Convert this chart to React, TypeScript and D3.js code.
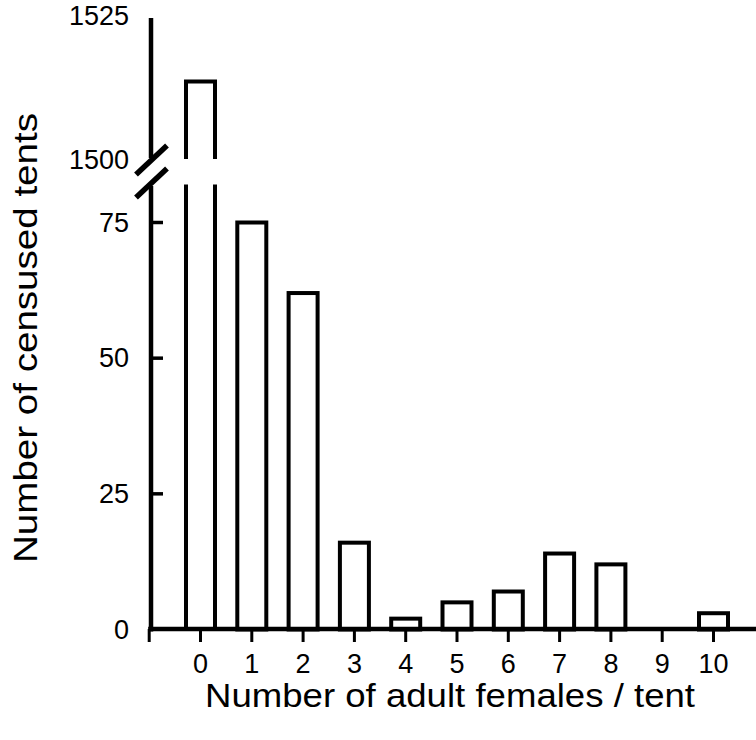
import React from "react";
import * as d3 from "d3";

const categories: number[] = [0, 1, 2, 3, 4, 5, 6, 7, 8, 9, 10];
const counts: number[] = [1514, 75, 62, 16, 2, 5, 7, 14, 12, 0, 3];
const lowTicks: number[] = [0, 25, 50, 75];
const highTicks: number[] = [1500, 1525];
const xTitle = "Number of adult females / tent";
const yTitle = "Number of censused tents";

const W = 756;
const H = 740;
const FONT = "'Liberation Sans', Arial, Helvetica, sans-serif";

export default function App() {
  const x = d3.scaleLinear().domain([-1, 11]).range([149.2, 764.8]);
  const yLow = d3.scaleLinear().domain([0, 75]).range([629.5, 222.5]);
  const yHigh = d3.scaleLinear().domain([1500, 1525]).range([160, 20]);
  const lowMax = 82; // top of lower panel (break)
  const highMin = 1500.2; // bottom of upper panel (break)
  const axisX = 151;
  const barW = 29;
  const sw = 4;

  const breakY1 = 160.5;
  const breakY2 = 183.5;

  const bars = categories.map((c, i) => {
    const v = counts[i];
    if (v <= 0) return null;
    const cx = x(c);
    const l = cx - barW / 2;
    const r = cx + barW / 2;
    if (v > lowMax) {
      const p1 = d3.path();
      p1.moveTo(l, yLow(0));
      p1.lineTo(l, yLow(lowMax));
      p1.moveTo(r, yLow(0));
      p1.lineTo(r, yLow(lowMax));
      const p2 = d3.path();
      p2.moveTo(l, yHigh(highMin));
      p2.lineTo(l, yHigh(v));
      p2.lineTo(r, yHigh(v));
      p2.lineTo(r, yHigh(highMin));
      return (
        <g key={c}>
          <path d={p1.toString()} fill="none" stroke="#000" strokeWidth={sw} />
          <path d={p2.toString()} fill="none" stroke="#000" strokeWidth={sw} strokeLinejoin="miter" />
        </g>
      );
    }
    return (
      <rect
        key={c}
        x={l}
        y={yLow(v)}
        width={barW}
        height={yLow(0) - yLow(v)}
        fill="#fff"
        stroke="#000"
        strokeWidth={sw}
      />
    );
  });

  return (
    <svg
      width={W}
      height={H}
      viewBox={`0 0 ${W} ${H}`}
      style={{ position: "absolute", left: 0, top: 0, background: "#fff" }}
      fontFamily={FONT}
    >
      <rect x={0} y={0} width={W} height={H} fill="#fff" />
      {bars}
      {/* y axis: upper segment */}
      <line x1={axisX} x2={axisX} y1={18} y2={158} stroke="#000" strokeWidth={4.5} />
      {/* y axis: lower segment */}
      <line x1={axisX} x2={axisX} y1={186} y2={yLow(0) + 2} stroke="#000" strokeWidth={4.5} />
      {/* break marks */}
      {[breakY1, breakY2].map((by) => (
        <line
          key={by}
          x1={axisX - 15}
          y1={by + 14}
          x2={axisX + 16}
          y2={by - 15}
          stroke="#000"
          strokeWidth={5.5}
        />
      ))}
      {/* y ticks lower */}
      {lowTicks.map((t) => (
        <g key={t}>
          {t > 0 && (
            <line x1={axisX} x2={axisX + 12} y1={yLow(t)} y2={yLow(t)} stroke="#000" strokeWidth={3.5} />
          )}
          <text
            x={129}
            y={yLow(t)}
            textAnchor="end"
            dominantBaseline="central"
            fontSize={27}
          >
            {t}
          </text>
        </g>
      ))}
      {highTicks.map((t) => (
        <text
          key={t}
          x={129}
          y={yHigh(t) + (t === 1525 ? -4 : 0)}
          textAnchor="end"
          dominantBaseline="central"
          fontSize={27}
        >
          {t}
        </text>
      ))}
      {/* x axis */}
      <line x1={x(-1) - 1} x2={W} y1={629} y2={629} stroke="#000" strokeWidth={4.5} />
      {[-1, ...categories].map((c) => (
        <line key={c} x1={x(c)} x2={x(c)} y1={629} y2={642} stroke="#000" strokeWidth={3} />
      ))}
      {categories.map((c) => (
        <text key={c} x={x(c)} y={673} textAnchor="middle" fontSize={27}>
          {c}
        </text>
      ))}
      {/* titles */}
      <text x={205} y={707} fontSize={33} textLength={490} lengthAdjust="spacingAndGlyphs">
        {xTitle}
      </text>
      <text
        transform="translate(37,563) rotate(-90)"
        x={0}
        y={0}
        fontSize={33}
        textLength={450}
        lengthAdjust="spacingAndGlyphs"
      >
        {yTitle}
      </text>
    </svg>
  );
}
